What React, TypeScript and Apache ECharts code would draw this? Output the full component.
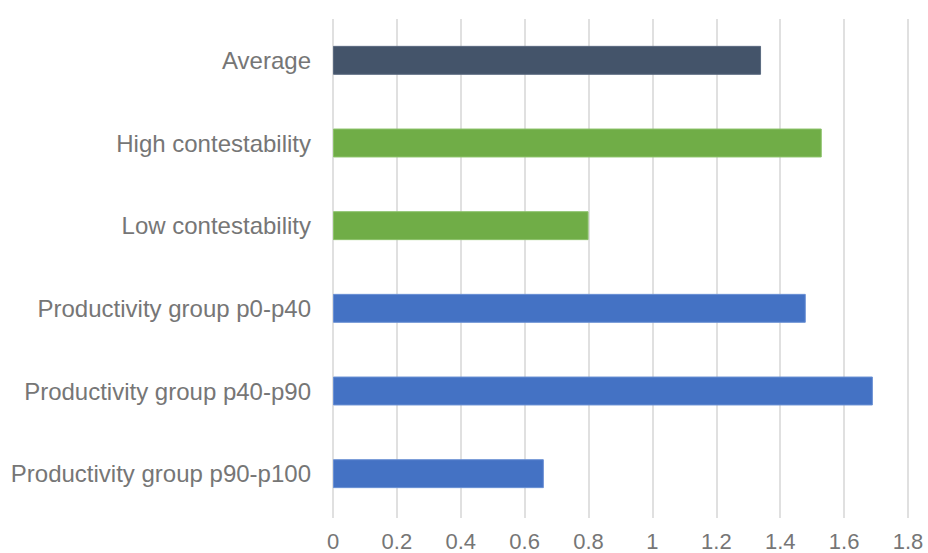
import React, { useEffect, useRef } from "react";
import * as echarts from "echarts";

const categories = [
  "Average",
  "High contestability",
  "Low contestability",
  "Productivity group p0-p40",
  "Productivity group p40-p90",
  "Productivity group p90-p100",
];
const values = [1.34, 1.53, 0.8, 1.48, 1.69, 0.66];
const barColors = ["#44546A", "#70AD47", "#70AD47", "#4472C4", "#4472C4", "#4472C4"];
const borderColors = ["#5b6a80", "#8cc26a", "#8cc26a", "#6a90d4", "#6a90d4", "#6a90d4"];

export default function App() {
  const ref = useRef<HTMLDivElement>(null);
  useEffect(() => {
    if (!ref.current) return;
    const chart = echarts.init(ref.current, undefined, { renderer: "svg" });
    chart.setOption({
      animation: false,
      backgroundColor: "#ffffff",
      grid: {
        left: 333,
        right: 20,
        top: 19,
        bottom: 38,
        containLabel: false,
        outerBoundsMode: "none",
      },
      xAxis: {
        type: "value",
        min: 0,
        max: 1.8,
        interval: 0.2,
        axisLine: { show: false },
        axisTick: { show: true, length: 3, lineStyle: { color: "#e0e0e0", width: 2 } },
        splitLine: { show: true, lineStyle: { color: "#e0e0e0", width: 2 } },
        axisLabel: {
          color: "#767676",
          fontSize: 22,
          lineHeight: 22,
          fontFamily: "Liberation Sans, Arial, sans-serif",
          margin: 15,
          formatter: (v: number) => String(Math.round(v * 10) / 10),
        },
      },
      yAxis: {
        type: "category",
        data: categories,
        inverse: true,
        axisLine: { show: false },
        axisTick: { show: false },
        splitLine: { show: false },
        axisLabel: {
          color: "#767676",
          fontSize: 24,
          fontFamily: "Liberation Sans, Arial, sans-serif",
          margin: 22,
        },
      },
      series: [
        {
          type: "bar",
          barWidth: "35%",
          data: values.map((v, i) => ({
            value: v,
            itemStyle: { color: barColors[i], borderColor: borderColors[i], borderWidth: 1 },
          })),
        },
      ],
    });
    return () => chart.dispose();
  }, []);
  return (
    <div
      ref={ref}
      style={{ position: "fixed", left: 0, top: 0, width: 928, height: 553 }}
    />
  );
}
